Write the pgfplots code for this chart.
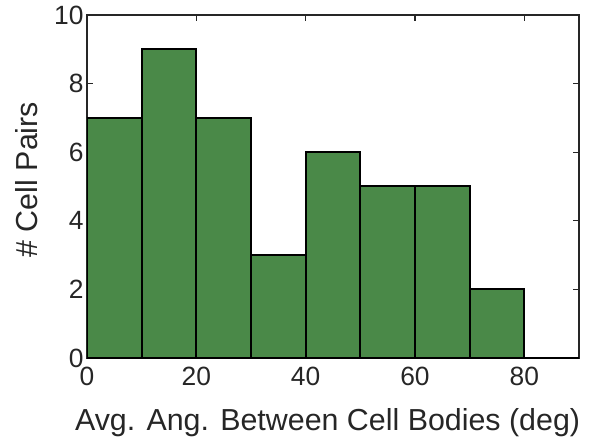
\documentclass[border=0pt]{standalone}
\usepackage{pgfplots}
\pgfplotsset{compat=1.18}
\usepackage{fontspec}
\setmainfont{Liberation Sans}
\definecolor{barg}{RGB}{74,137,72}
\definecolor{axg}{RGB}{38,38,38}
\begin{document}
\begin{tikzpicture}
\useasboundingbox (-87bp,-88bp) rectangle (502bp,358bp);
\begin{axis}[
  scale only axis,
  width=492bp, height=343bp,
  xmin=0, xmax=90, ymin=0, ymax=10,
  xtick={0,20,40,60,80}, ytick={0,2,4,6,8,10},
  tick align=inside,
  major tick length=6bp,
  axis line style={axg, line width=1.2bp},
  tick style={axg, line width=1.2bp},
  every tick label/.append style={font=\fontsize{26.5}{30}\selectfont, text=axg},
  xticklabel style={yshift=-6bp},
  /pgf/number format/assume math mode=true,
  xlabel={Avg. Ang. Between Cell Bodies (deg)},
  ylabel={\# Cell Pairs},
  label style={font=\fontsize{30.5}{35}\selectfont, text=axg},
  xlabel style={at={(axis description cs:0.489,-0.21)}, anchor=base},
  ylabel style={at={(axis description cs:-0.1016,0.52)}, anchor=base},
]
\addplot[ybar interval, fill=barg, draw=none] coordinates {
(0,7) (10,9) (20,7) (30,3) (40,6) (50,5) (60,5) (70,2) (80,0) (90,0)
};
\addplot[ybar interval, fill=none, draw=black, line width=2bp] coordinates {
(0,7) (10,9) (20,7) (30,3) (40,6) (50,5) (60,5) (70,2) (80,0) (90,0)
};
\end{axis}
\end{tikzpicture}
\end{document}
